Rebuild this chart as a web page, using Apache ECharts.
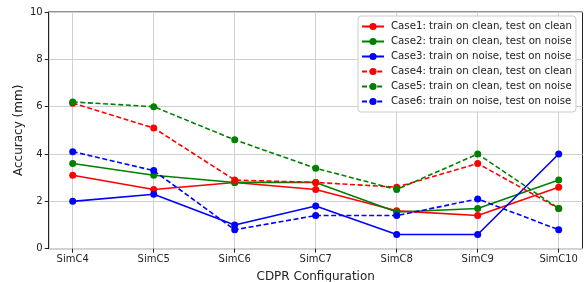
<!DOCTYPE html>
<html lang="en">
<head>
    <meta charset="UTF-8">
    <script src="https://cdn.jsdelivr.net/npm/echarts@6/dist/echarts.min.js"></script>
    <title>CDPR accuracy</title>
    <style>
        body { margin: 0; background: #fff; }
    </style>
</head>
<body>
<div id="chart" style="width: 584px;height: 282px"></div>
<script type="text/javascript">
    // configurations on the x axis
    var configs = ['SimC4', 'SimC5', 'SimC6', 'SimC7', 'SimC8', 'SimC9', 'SimC10'];
    var yTicks = [0, 2, 4, 6, 8, 10];

    // accuracy (mm) per case
    var case1 = [3.1, 2.5, 2.8, 2.5, 1.6, 1.4, 2.6];
    var case2 = [3.6, 3.1, 2.8, 2.8, 1.55, 1.7, 2.9];
    var case3 = [2.0, 2.3, 1.0, 1.8, 0.6, 0.6, 4.0];
    var case4 = [6.15, 5.1, 2.9, 2.8, 2.6, 3.6, 1.7];
    var case5 = [6.2, 6.0, 4.6, 3.4, 2.5, 4.0, 1.7];
    var case6 = [4.1, 3.3, 0.8, 1.4, 1.4, 2.1, 0.8];

    var caseNames = [
        'Case1: train on clean, test on clean',
        'Case2: train on clean, test on noise',
        'Case3: train on noise, test on noise',
        'Case4: train on clean, test on clean',
        'Case5: train on clean, test on noise',
        'Case6: train on noise, test on noise'
    ];
    var caseData = [case1, case2, case3, case4, case5, case6];
    var caseColors = ['#ff0000', '#008000', '#0000ff', '#ff0000', '#008000', '#0000ff'];
    var caseDashed = [false, false, false, true, true, true];

    var font = 'DejaVu Sans';
    var gridColor = '#d0d0d0';

    var series = caseData.map(function (d, i) {
        return {
            name: caseNames[i],
            type: 'line',
            xAxisIndex: 0,
            yAxisIndex: 0,
            data: d,
            symbol: 'circle',
            symbolSize: 7,
            showSymbol: true,
            itemStyle: { color: caseColors[i] },
            lineStyle: {
                color: caseColors[i],
                width: 1.6,
                type: caseDashed[i] ? [5, 2.6] : 'solid'
            },
            emphasis: { disabled: true }
        };
    });

    var chart = echarts.init(document.getElementById('chart'));
    chart.setOption({
        animation: false,
        textStyle: { fontFamily: font },
        grid: [
            // data area: category points placed at its edges
            { left: 72.7, right: 25.3, top: 12, bottom: 33.3,
              containLabel: false, outerBoundsMode: 'none' },
            // outer frame with matplotlib-like margins
            { left: 48.7, right: 1.5, top: 12, bottom: 33.3, show: true,
              containLabel: false, outerBoundsMode: 'none',
              borderColor: '#222', borderWidth: 1, backgroundColor: 'transparent' }
        ],
        xAxis: [
            {
                gridIndex: 0,
                type: 'category',
                data: configs,
                boundaryGap: false,
                axisLine: { show: false },
                axisTick: { show: true, length: 4, alignWithLabel: true, lineStyle: { color: '#222' } },
                axisLabel: { fontSize: 10, color: '#222', margin: 6, fontFamily: font },
                splitLine: { show: true, lineStyle: { color: gridColor, width: 1 } },
                name: 'CDPR Configuration',
                nameLocation: 'middle',
                nameGap: 22,
                nameMoveOverlap: false,
                nameTextStyle: { fontSize: 12, color: '#222', fontFamily: font }
            },
            { gridIndex: 1, type: 'value', show: false, min: 0, max: 1 }
        ],
        yAxis: [
            { gridIndex: 0, type: 'value', min: 0, max: 10, show: false },
            {
                gridIndex: 1,
                type: 'value',
                min: yTicks[0],
                max: yTicks[yTicks.length - 1],
                interval: 2,
                axisLine: { show: true, lineStyle: { color: '#222' } },
                axisTick: { show: true, length: 4, lineStyle: { color: '#222' } },
                axisLabel: { fontSize: 10, color: '#222', margin: 6, fontFamily: font },
                splitLine: { show: true, lineStyle: { color: gridColor, width: 1 } },
                name: 'Accuracy (mm)',
                nameLocation: 'middle',
                nameGap: 24,
                nameMoveOverlap: false,
                nameTextStyle: { fontSize: 12, color: '#222', fontFamily: font }
            }
        ],
        legend: {
            orient: 'vertical',
            left: 358,
            top: 16,
            itemWidth: 22,
            itemHeight: 9,
            itemGap: 0,
            padding: [3, 4, 3, 3],
            backgroundColor: 'rgba(255,255,255,0.85)',
            borderColor: '#cccccc',
            borderWidth: 1,
            borderRadius: 3,
            textStyle: { fontSize: 10.2, color: '#222', lineHeight: 15, fontFamily: font, padding: [0, 0, 0, 2] },
            data: caseNames
        },
        series: series
    });
</script>
</body>
</html>
